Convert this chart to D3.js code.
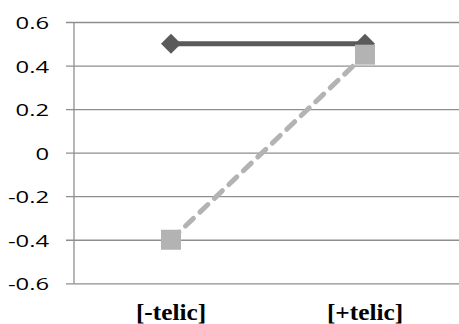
<!DOCTYPE html>
<html><head><meta charset="utf-8">
<script src="https://cdn.jsdelivr.net/npm/d3@7"></script>
<style>body{margin:0;background:#fff}svg{display:block}</style>
</head><body>
<script>
const categories = ["[-telic]", "[+telic]"];
const seriesSolid = [0.5, 0.5];
const seriesDashed = [-0.4, 0.45];
const yTicks = [-0.6, -0.4, -0.2, 0, 0.2, 0.4, 0.6];

const W = 459, H = 324;
const m = {left: 74, top: 22, right: -3, bottom: 40.7};
const svg = d3.select("body").append("svg").attr("width", W).attr("height", H);

const x = d3.scaleBand().domain(categories).range([m.left, W - m.right]);
const y = d3.scaleLinear().domain([-0.6, 0.6]).range([H - m.bottom, m.top]);
const grid = "#8e8e8e";

// gridlines with outside ticks
const yAxis = svg.append("g").attr("transform", `translate(${m.left},0)`)
  .call(d3.axisLeft(y).tickValues(yTicks).tickSize(-(W - m.left)).tickSizeOuter(0)
    .tickFormat(d => d === 0 ? "0" : d.toFixed(1)).tickPadding(0));
yAxis.select(".domain").remove();
yAxis.selectAll(".tick line").attr("stroke", grid).attr("stroke-width", 1.3).attr("x1", -8);
yAxis.selectAll(".tick text").attr("x", 0).attr("dy", "0.38em")
  .attr("transform", "translate(-25,0) scale(1.4,1)").attr("text-anchor", "end")
  .attr("font-family", "'Open Sans', sans-serif").attr("font-size", 17).attr("fill", "#000");

// vertical axis
svg.append("line").attr("x1", m.left).attr("x2", m.left)
  .attr("y1", y(0.6)).attr("y2", y(-0.6)).attr("stroke", grid).attr("stroke-width", 1.3);

// x labels
const xAxis = svg.append("g").attr("transform", `translate(0,${y(-0.6)})`)
  .call(d3.axisBottom(x).tickSize(0).tickPadding(0));
xAxis.select(".domain").remove();
xAxis.selectAll(".tick text").attr("y", 0).attr("dy", 0)
  .attr("transform", "translate(0,36.2) scale(1.1,1)")
  .attr("font-family", "'Liberation Serif', 'Times New Roman', serif").attr("font-weight", "bold")
  .attr("font-size", 23).attr("fill", "#000");

const cx = d => x(d) + x.bandwidth() / 2;
const line = d3.line().x(d => cx(d[0])).y(d => y(d[1]));

// solid series
svg.append("path").datum(categories.map((c, i) => [c, seriesSolid[i]]))
  .attr("d", line).attr("fill", "none").attr("stroke", "#5a5a5a").attr("stroke-width", 5);
svg.selectAll(".dia").data(categories.map((c, i) => [c, seriesSolid[i]])).enter()
  .append("path").attr("transform", d => `translate(${cx(d[0])},${y(d[1])})`)
  .attr("d", "M0,-10L10,0L0,10L-10,0Z").attr("fill", "#5a5a5a");

// dashed series
svg.append("path").datum(categories.map((c, i) => [c, seriesDashed[i]]))
  .attr("d", line).attr("fill", "none").attr("stroke", "#b3b3b3").attr("stroke-width", 5)
  .attr("stroke-dasharray", "11,9").attr("stroke-linecap", "round");
svg.selectAll(".sq").data(categories.map((c, i) => [c, seriesDashed[i]])).enter()
  .append("rect").attr("x", d => cx(d[0]) - 10).attr("y", d => y(d[1]) - 10)
  .attr("width", 20).attr("height", 20).attr("fill", "#b3b3b3");
</script>
</body></html>
